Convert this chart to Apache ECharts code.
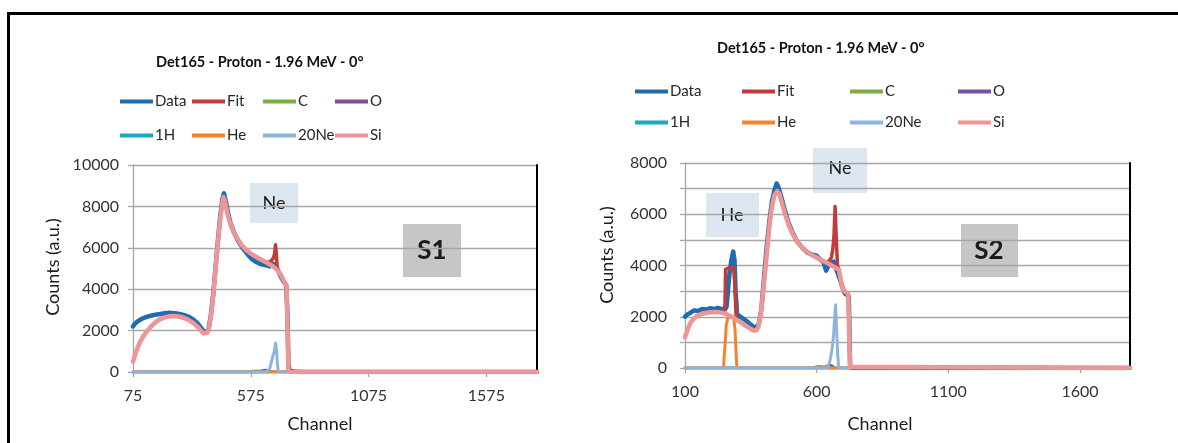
<!DOCTYPE html>
<html>
<head>
<meta charset="utf-8">
<script src="https://cdn.jsdelivr.net/npm/echarts@6/dist/echarts.min.js"></script>
<style>
html,body{margin:0;padding:0;background:#fff;}
#c{width:1178px;height:443px;}
</style>
</head>
<body>
<div id="c"></div>
<script>
// ---------- DATA ----------
const seriesNames = ['Data', 'Fit', 'C', 'O', '1H', 'He', '20Ne', 'Si'];
const chartTitle = 'Det165 - Proton - 1.96 MeV - 0°';

// S1 (left)
const s1XTicks = [75, 575, 1075, 1575];
const s1Data = [[75,2200],[85,2350],[95,2450],[110,2560],[130,2650],[150,2720],[170,2770],[190,2800],[210,2840],[230,2860],[250,2840],[270,2810],[290,2760],[310,2680],[330,2540],[350,2340],[365,2120],[378,1930],[386,1880],[394,2000],[405,2700],[415,3700],[425,5000],[435,6300],[445,7500],[455,8400],[461,8630],[468,8300],[478,7700],[490,7150],[505,6700],[520,6350],[540,6000],[560,5700],[580,5450],[600,5300],[620,5200],[640,5150],[655,5100],[665,5250],[675,5200],[685,5050],[695,4800],[705,4550],[715,4350],[725,4200],[730,3000],[735,400],[740,50],[760,20],[800,0],[1790,0]];
const s1Fit = [[75,500],[90,1050],[105,1450],[120,1750],[135,1980],[150,2180],[170,2400],[190,2550],[210,2640],[230,2690],[250,2700],[270,2680],[290,2620],[310,2520],[330,2380],[350,2180],[365,1980],[375,1870],[382,1840],[390,1900],[398,2150],[405,2650],[415,3600],[425,4900],[435,6200],[445,7350],[453,8100],[459,8450],[465,8250],[475,7700],[487,7200],[500,6800],[515,6500],[535,6150],[555,5900],[580,5680],[610,5480],[640,5320],[648,5360],[656,5320],[663,5380],[670,5480],[676,5700],[680,6150],[684,5600],[688,4950],[692,4880],[705,4650],[715,4400],[722,4250],[727,4150],[731,2000],[735,100],[740,0],[1790,0]];
const s1C = [[75,0],[560,0],[575,40],[600,60],[620,40],[640,0],[1790,0]];
const s1O = [[75,0],[600,0],[620,60],[640,100],[655,60],[665,0],[1790,0]];
const s1H1 = [[75,0],[1790,0]];
const s1He = [[75,0],[660,0],[668,40],[678,30],[685,0],[1790,0]];
const s1Ne = [[75,0],[640,0],[655,150],[662,450],[668,750],[674,950],[680,1400],[684,1100],[688,400],[692,0],[1210,0]];
const s1Si = [[75,500],[90,1050],[105,1450],[120,1750],[135,1980],[150,2180],[170,2400],[190,2550],[210,2640],[230,2690],[250,2700],[270,2680],[290,2620],[310,2520],[330,2380],[350,2180],[365,1980],[375,1870],[382,1840],[390,1900],[398,2150],[405,2650],[415,3600],[425,4900],[435,6200],[445,7350],[453,8100],[459,8450],[465,8250],[475,7700],[487,7200],[500,6800],[515,6500],[535,6150],[555,5900],[580,5680],[610,5480],[640,5300],[670,5100],[690,4900],[705,4650],[715,4400],[722,4250],[727,4150],[731,2000],[735,100],[740,0],[1790,0]];

// S2 (right)
const s2XTicks = [100, 600, 1100, 1600];
const s2YLabels = [0, 2000, 4000, 6000, 8000];
const s2Data = [[100,2000],[110,2100],[120,2150],[135,2250],[150,2220],[165,2300],[180,2280],[195,2330],[210,2300],[225,2350],[240,2300],[252,2280],[258,2400],[263,3000],[268,3600],[276,4200],[283,4550],[288,4200],[292,3000],[298,2100],[310,2000],[325,1900],[340,1780],[355,1650],[365,1550],[372,1520],[380,1700],[390,2300],[400,3500],[410,4700],[420,5700],[430,6500],[440,6950],[448,7200],[455,7050],[465,6700],[478,6200],[492,5700],[508,5300],[525,4950],[545,4700],[565,4500],[585,4420],[600,4380],[612,4250],[625,4150],[636,3800],[645,4000],[655,4100],[665,4150],[680,3700],[690,3400],[700,3100],[708,2900],[715,2850],[722,2800],[727,100],[732,0],[1790,0]];
const s2Fit = [[100,1200],[110,1500],[120,1750],[135,1950],[150,2060],[170,2130],[190,2170],[210,2190],[230,2180],[248,2140],[252,2500],[254,3850],[270,3920],[285,3900],[290,3200],[294,2000],[300,1860],[310,1790],[330,1650],[350,1520],[362,1460],[370,1470],[378,1580],[388,2100],[398,3100],[410,4400],[420,5500],[430,6300],[440,6750],[450,6900],[458,6800],[468,6450],[480,6000],[495,5550],[510,5200],[530,4880],[555,4600],[580,4420],[610,4250],[640,4100],[648,4200],[656,4300],[662,4700],[666,5200],[670,6300],[674,5200],[679,4000],[685,3830],[690,3500],[700,3050],[712,2950],[720,2900],[723,1500],[727,50],[732,0],[1790,0]];
const s2C = [[100,0],[585,0],[600,60],[615,70],[630,30],[640,0],[1790,0]];
const s2O = [[100,0],[620,0],[635,60],[650,120],[660,80],[668,0],[1790,0]];
const s2H1 = [[100,0],[1790,0]];
const s2He = [[100,0],[246,0],[252,900],[257,1700],[263,1950],[275,1980],[285,1950],[290,1500],[294,600],[297,0],[1790,0]];
const s2Ne = [[100,0],[640,0],[650,250],[658,700],[664,1250],[668,1900],[672,2470],[676,1500],[680,500],[684,0],[990,0]];
const s2Si = [[100,1200],[110,1500],[120,1750],[135,1950],[150,2060],[170,2130],[190,2170],[210,2190],[230,2180],[250,2130],[270,2040],[290,1920],[310,1790],[330,1650],[350,1520],[362,1460],[370,1470],[378,1580],[388,2100],[398,3100],[410,4400],[420,5500],[430,6300],[440,6750],[450,6900],[458,6800],[468,6450],[480,6000],[495,5550],[510,5200],[530,4880],[555,4600],[580,4420],[610,4250],[640,4100],[665,3950],[685,3830],[690,3500],[700,3050],[712,2950],[720,2900],[723,1500],[727,50],[732,0],[1790,0]];

// ---------- STYLE ----------
const FONT = 'Lato, "Open Sans", sans-serif';
const colors = {Data:'#1f6cb0', Fit:'#c33b38', C:'#7aad44', O:'#7b4f9d', '1H':'#1ea6c2', He:'#f5832b', '20Ne':'#8db3df', Si:'#ee9696'};
const widths = {Data:4.5, Fit:3.5, C:2.5, O:2.5, '1H':2.5, He:3, '20Ne':3, Si:4.5};
const GRID = '#a6a6a6';
const TICKCOL = '#333333';

const s1Sets = [s1Data, s1Fit, s1C, s1O, s1H1, s1He, s1Ne, s1Si];
const s2Sets = [s2Data, s2Fit, s2C, s2O, s2H1, s2He, s2Ne, s2Si];

function mk(name, data, xi, yi) {
  return {
    type: 'line', name: name, data: data, xAxisIndex: xi, yAxisIndex: yi,
    showSymbol: false, symbol: 'none', animation: false, silent: true,
    lineStyle: {color: colors[name], width: widths[name], join: 'round', cap: 'round'},
    itemStyle: {color: colors[name]}
  };
}
const series = [];
seriesNames.forEach((n, i) => series.push(mk(n, s1Sets[i], 0, 0)));
seriesNames.forEach((n, i) => series.push(mk(n, s2Sets[i], 1, 2)));

function legendItem(name, left, top) {
  return {
    data: [name], left: left, top: top, icon: 'rect', itemWidth: 33, itemHeight: 4,
    selectedMode: false, padding: 0,
    textStyle: {fontFamily: FONT, fontSize: 15, color: '#262626', padding: [0,0,0,-3]}
  };
}
const leftCols = [120, 192, 263, 335];
const rightCols = [635, 742, 850, 958];
const legends = [];
seriesNames.forEach((n, i) => {
  const col = i % 4, row = Math.floor(i / 4);
  legends.push(legendItem(n, leftCols[col], row === 0 ? 94 : 128));
  legends.push(legendItem(n, rightCols[col], row === 0 ? 84 : 115));
});

const plain = v => String(v);

function xAx(grid, min, ticks) {
  return {
    type: 'value', gridIndex: grid, min: min, max: 1790,
    splitLine: {show: false},
    axisLine: {show: true, onZero: false, lineStyle: {color: GRID, width: 1.3}},
    axisTick: {show: true, customValues: ticks, length: 5, lineStyle: {color: GRID, width: 1.3}},
    axisLabel: {customValues: ticks, formatter: plain, margin: 16, fontFamily: FONT, fontSize: 16, color: TICKCOL}
  };
}

const chart = echarts.init(document.getElementById('c'), null, {renderer: 'canvas'});
chart.setOption({
  backgroundColor: '#ffffff',
  animation: false,
  title: [
    {text: chartTitle, left: 156, top: 55, padding: 0, textStyle: {fontFamily: FONT, fontSize: 14.5, fontWeight: 'bold', color: '#111'}},
    {text: chartTitle, left: 717, top: 41, padding: 0, textStyle: {fontFamily: FONT, fontSize: 14.5, fontWeight: 'bold', color: '#111'}}
  ],
  legend: legends,
  grid: [
    {left: 133, right: 1178 - 537, top: 165, bottom: 443 - 372},
    {left: 685, right: 1178 - 1130, top: 163, bottom: 443 - 368}
  ],
  xAxis: [xAx(0, 75, s1XTicks), xAx(1, 100, s2XTicks)],
  yAxis: [
    {type: 'value', gridIndex: 0, min: 0, max: 10000, interval: 2000,
     splitLine: {show: true, lineStyle: {color: GRID, width: 1.3}},
     axisLine: {show: true, lineStyle: {color: GRID, width: 1.3}},
     axisTick: {show: true, length: 5, lineStyle: {color: GRID, width: 1.3}},
     axisLabel: {margin: 14, formatter: plain, fontFamily: FONT, fontSize: 16, color: TICKCOL}},
    {type: 'value', gridIndex: 0, position: 'right', min: 0, max: 10000, interval: 2000,
     splitLine: {show: false}, axisTick: {show: false}, axisLabel: {show: false},
     axisLine: {show: true, lineStyle: {color: '#000', width: 2}}},
    {type: 'value', gridIndex: 1, min: 0, max: 8000, interval: 1000,
     splitLine: {show: true, lineStyle: {color: GRID, width: 1.3}},
     axisLine: {show: true, lineStyle: {color: GRID, width: 1.3}},
     axisTick: {show: true, length: 5, lineStyle: {color: GRID, width: 1.3}},
     axisLabel: {margin: 18, fontFamily: FONT, fontSize: 16, color: TICKCOL,
       formatter: v => (s2YLabels.indexOf(v) >= 0 ? String(v) : '')}},
    {type: 'value', gridIndex: 1, position: 'right', min: 0, max: 8000, interval: 1000,
     splitLine: {show: false}, axisTick: {show: false}, axisLabel: {show: false},
     axisLine: {show: true, lineStyle: {color: '#000', width: 2}}}
  ],
  series: series,
  graphic: [
    // outer frame (top and left edges visible)
    {type: 'rect', shape: {x: 8.5, y: 13.5, width: 1200, height: 460}, style: {fill: null, stroke: '#000', lineWidth: 3}, silent: true},
    // axis titles
    {type: 'text', x: 53, y: 267, rotation: Math.PI / 2, style: {text: 'Counts (a.u.)', fontFamily: FONT, fontSize: 18, fill: '#1a1a1a', align: 'center', verticalAlign: 'middle'}},
    {type: 'text', x: 607, y: 255, rotation: Math.PI / 2, style: {text: 'Counts (a.u.)', fontFamily: FONT, fontSize: 18, fill: '#1a1a1a', align: 'center', verticalAlign: 'middle'}},
    {type: 'text', x: 320, y: 424, style: {text: 'Channel', fontFamily: FONT, fontSize: 18, fill: '#1a1a1a', align: 'center', verticalAlign: 'middle'}},
    {type: 'text', x: 880, y: 424, style: {text: 'Channel', fontFamily: FONT, fontSize: 18, fill: '#1a1a1a', align: 'center', verticalAlign: 'middle'}},
    // annotation boxes
    {type: 'rect', shape: {x: 250, y: 183, width: 48, height: 40}, style: {fill: '#dce6f1'}},
    {type: 'text', x: 274, y: 203, style: {text: 'Ne', fontFamily: FONT, fontSize: 18, fill: '#1a1a1a', align: 'center', verticalAlign: 'middle'}},
    {type: 'rect', shape: {x: 403, y: 224, width: 58, height: 53}, style: {fill: '#c6c6c6'}},
    {type: 'text', x: 432, y: 251, style: {text: 'S1', fontFamily: FONT, fontSize: 26, fontWeight: 'bold', fill: '#1a1a1a', align: 'center', verticalAlign: 'middle'}},
    {type: 'rect', shape: {x: 706, y: 193, width: 53, height: 44}, style: {fill: '#dce6f1'}},
    {type: 'text', x: 732, y: 215, style: {text: 'He', fontFamily: FONT, fontSize: 18, fill: '#1a1a1a', align: 'center', verticalAlign: 'middle'}},
    {type: 'rect', shape: {x: 813, y: 148, width: 54, height: 45}, style: {fill: '#dce6f1'}},
    {type: 'text', x: 840, y: 168, style: {text: 'Ne', fontFamily: FONT, fontSize: 18, fill: '#1a1a1a', align: 'center', verticalAlign: 'middle'}},
    {type: 'rect', shape: {x: 961, y: 224, width: 57, height: 53}, style: {fill: '#c6c6c6'}},
    {type: 'text', x: 989, y: 251, style: {text: 'S2', fontFamily: FONT, fontSize: 26, fontWeight: 'bold', fill: '#1a1a1a', align: 'center', verticalAlign: 'middle'}}
  ]
});
</script>
</body>
</html>
